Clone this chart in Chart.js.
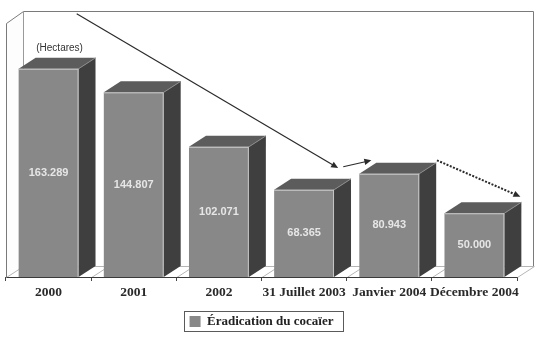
<!DOCTYPE html>
<html lang="fr">
<head>
<meta charset="UTF-8">
<title>Éradication du cocaïer</title>
<script src="https://cdn.jsdelivr.net/npm/chart.js"></script>
<style>
  html, body { margin: 0; padding: 0; background: #fff; }
  .chart-container { position: relative; width: 535px; height: 342px; }
</style>
</head>
<body>
<div class="chart-container"><canvas id="cocaChart"></canvas></div>
<script>
// données (milliers d'hectares)
const periods = ['2000', '2001', '2002', '31 Juillet 2003', 'Janvier 2004', 'Décembre 2004'];
const hectares = [163.289, 144.807, 102.071, 68.365, 80.943, 50.000];
const seriesName = 'Éradication du cocaïer';
const unitLabel = '(Hectares)';
const yRange = [0, 200];

// flèches de tendance, en coordonnées des données [index catégorie, valeur]
const trendArrows = [
  { from: [0.33, 206.5], to: [3.40, 85.5], dashed: false },
  { from: [3.46, 86.5], to: [3.79, 91.5], dashed: false },
  { from: [4.56, 91.5], to: [5.54, 63.0], dashed: true }
];

// profondeur 3D
const DX = 17, DY = -11;

function poly(ctx, pts) {
  ctx.beginPath();
  ctx.moveTo(pts[0][0], pts[0][1]);
  for (let i = 1; i < pts.length; i++) ctx.lineTo(pts[i][0], pts[i][1]);
  ctx.closePath();
}

function line(ctx, x1, y1, x2, y2) {
  ctx.beginPath();
  ctx.moveTo(x1, y1);
  ctx.lineTo(x2, y2);
  ctx.stroke();
}

const box3d = {
  id: 'box3d',
  beforeDatasetsDraw(chart) {
    const { ctx, chartArea: { left, right, top, bottom } } = chart;
    const L = left + 0.5, R = right + 0.5, B = bottom + 0.5, T = top + 0.5;
    ctx.save();
    ctx.lineWidth = 1;

    // mur gauche
    ctx.fillStyle = '#fdfdfd';
    poly(ctx, [[L, B], [L, T + 1], [L + DX, T + 1 + DY], [L + DX, B + DY]]);
    ctx.fill();
    // mur du fond
    ctx.fillStyle = '#ffffff';
    poly(ctx, [[L + DX, T + DY], [R + DX - 1, T + DY], [R + DX - 1, B + DY], [L + DX, B + DY]]);
    ctx.fill();

    ctx.strokeStyle = '#7a7a7a';
    line(ctx, L, B, L, T + 1);
    line(ctx, L, T + 1, L + DX, T + DY);
    line(ctx, L + DX, T + DY, R + DX - 1, T + DY);
    line(ctx, R + DX - 1, T + DY, R + DX - 1, B + DY);
    ctx.strokeStyle = '#9a9a9a';
    line(ctx, L + DX, T + DY, L + DX, B + DY);

    // sol
    ctx.strokeStyle = '#b5b5b5';
    line(ctx, L + DX, B + DY, R + DX - 1, B + DY);
    const n = periods.length;
    const step = (right - left) / n;
    for (let i = 0; i <= n; i++) {
      const xb = left + i * step + 0.5;
      line(ctx, xb, B, xb + DX, B + DY);
    }
    ctx.strokeStyle = '#3a3a3a';
    line(ctx, L, B, R, B);
    ctx.restore();
  },
  afterDatasetsDraw(chart) {
    const { ctx } = chart;
    const meta = chart.getDatasetMeta(0);
    ctx.save();
    meta.data.forEach((bar, i) => {
      const l = bar.x - bar.width / 2, r = bar.x + bar.width / 2;
      const y = bar.y, base = bar.base;
      // dessus
      ctx.fillStyle = '#5c5c5c';
      poly(ctx, [[l, y], [r, y], [r + DX, y + DY], [l + DX, y + DY]]);
      ctx.fill();
      // côté
      ctx.fillStyle = '#3f3f3f';
      poly(ctx, [[r, y], [r + DX, y + DY], [r + DX, base + DY], [r, base]]);
      ctx.fill();
      // arêtes claires
      ctx.strokeStyle = '#c6c6c6';
      ctx.lineWidth = 1;
      line(ctx, l, y + 0.5, r, y + 0.5);
      line(ctx, r - 0.5, y, r - 0.5, base);
      ctx.strokeStyle = '#8a8a8a';
      line(ctx, r, y, r + DX, y + DY);

      // valeur
      ctx.fillStyle = '#e6e6e6';
      ctx.font = 'bold 11px "Liberation Sans", Arial, sans-serif';
      ctx.textAlign = 'center';
      ctx.textBaseline = 'middle';
      ctx.fillText(hectares[i].toFixed(3), bar.x, (y + base) / 2);
    });

    // unité au-dessus de la première barre
    const first = meta.data[0];
    ctx.fillStyle = '#333';
    ctx.font = '10px "Liberation Sans", Arial, sans-serif';
    ctx.textAlign = 'center';
    ctx.fillText(unitLabel, first.x + 11, first.y - 21);
    ctx.restore();
  },
  afterDraw(chart) {
    const { ctx, scales: { x, y } } = chart;
    ctx.save();
    // flèches
    trendArrows.forEach(a => {
      const x1 = x.getPixelForValue(a.from[0]), y1 = y.getPixelForValue(a.from[1]);
      const x2 = x.getPixelForValue(a.to[0]), y2 = y.getPixelForValue(a.to[1]);
      const ang = Math.atan2(y2 - y1, x2 - x1);
      ctx.strokeStyle = '#2b2b2b';
      ctx.fillStyle = '#2b2b2b';
      ctx.lineWidth = a.dashed ? 2 : 1.2;
      ctx.setLineDash(a.dashed ? [2, 1.5] : []);
      line(ctx, x1, y1, x2 - 4 * Math.cos(ang), y2 - 4 * Math.sin(ang));
      ctx.setLineDash([]);
      const hl = 7, hw = 3.2;
      poly(ctx, [
        [x2, y2],
        [x2 - hl * Math.cos(ang) + hw * Math.sin(ang), y2 - hl * Math.sin(ang) - hw * Math.cos(ang)],
        [x2 - hl * Math.cos(ang) - hw * Math.sin(ang), y2 - hl * Math.sin(ang) + hw * Math.cos(ang)]
      ]);
      ctx.fill();
    });

    // cadre de la légende
    const hb = chart.legend.legendHitBoxes[0];
    if (hb) {
      ctx.strokeStyle = '#5a5a5a';
      ctx.lineWidth = 1;
      ctx.strokeRect(Math.round(hb.left) - 5.5, Math.round(hb.top) - 3.5, Math.round(hb.width) + 15, Math.round(hb.height) + 7);
    }
    ctx.restore();
  }
};

const ctx = document.getElementById('cocaChart').getContext('2d');
new Chart(ctx, {
  type: 'bar',
  data: {
    labels: periods,
    datasets: [{
      label: seriesName,
      data: hectares,
      backgroundColor: '#888888',
      borderWidth: 0,
      categoryPercentage: 1,
      barPercentage: 0.703
    }]
  },
  options: {
    responsive: true,
    maintainAspectRatio: false,
    animation: false,
    devicePixelRatio: 1,
    layout: { padding: { left: 6, right: 18, top: 22, bottom: 4 } },
    plugins: {
      tooltip: { enabled: false },
      legend: {
        position: 'bottom',
        labels: {
          boxWidth: 11,
          boxHeight: 11,
          padding: 8,
          color: '#222',
          font: { family: '"Liberation Serif", serif', size: 13, weight: 'bold' }
        }
      }
    },
    scales: {
      x: {
        grid: { display: true, drawOnChartArea: false, drawTicks: true, tickLength: 4, color: '#444', offset: true },
        border: { display: false },
        ticks: {
          color: '#2a2a2a',
          padding: 3,
          maxRotation: 0,
          autoSkip: false,
          font: { family: '"Liberation Serif", serif', size: 13.5, weight: 'bold' }
        },
        afterFit(scale) { scale.height = 30; }
      },
      y: {
        display: false,
        min: yRange[0],
        max: yRange[1]
      }
    }
  },
  plugins: [box3d]
});
</script>
</body>
</html>
